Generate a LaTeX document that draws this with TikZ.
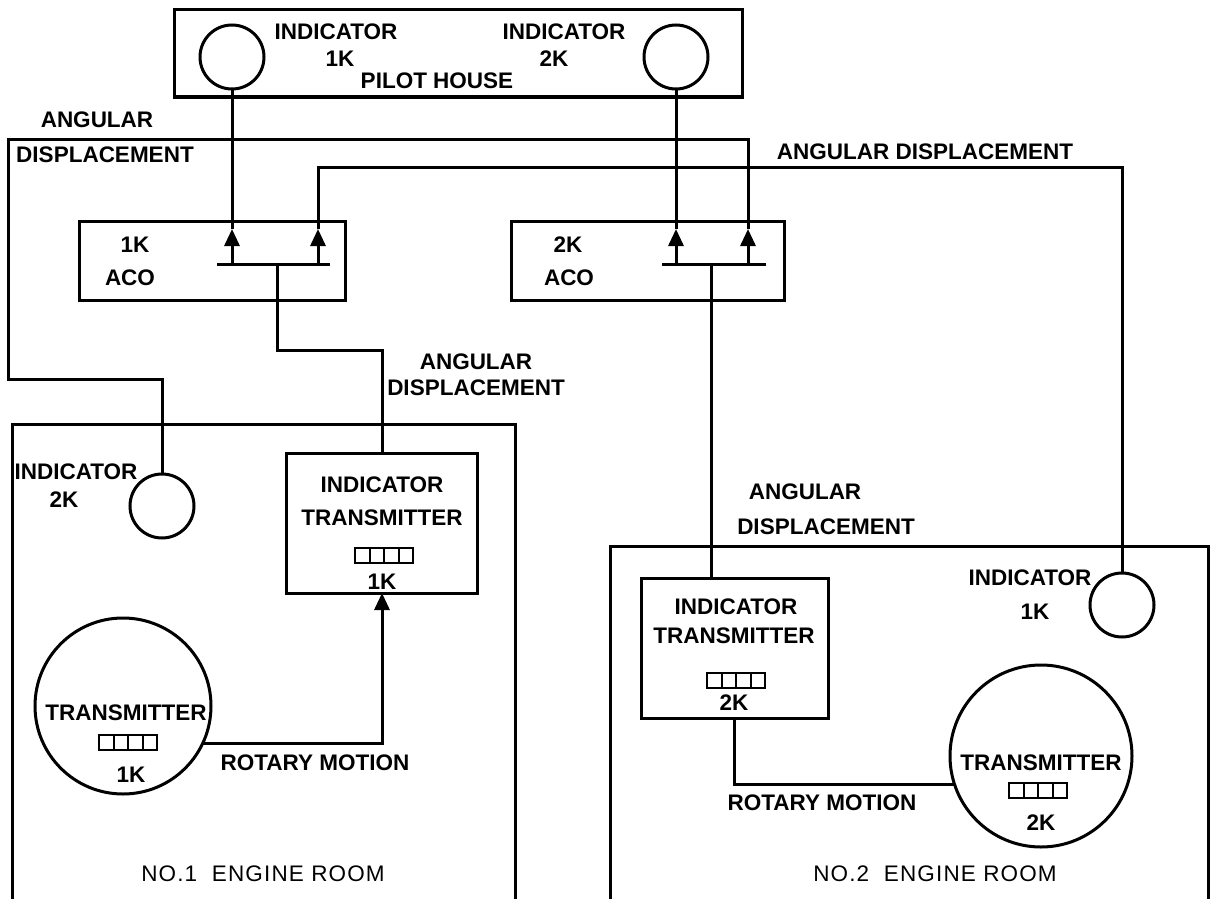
\documentclass[tikz,border=0pt]{standalone}
\usepackage{fontspec}
\setmainfont{Liberation Sans}
\usetikzlibrary{arrows.meta,calc}
\newcommand\lblfont{\fontsize{22.5}{25}\selectfont\bfseries}
\newcommand\roomfont{\fontsize{22.5}{25}\selectfont\addfontfeature{LetterSpace=5}}
\begin{document}
\begin{tikzpicture}[x=1pt,y=-1pt,
  ln/.style={line width=3pt},
  lbl/.style={font=\lblfont, inner sep=0pt},
  rlbl/.style={font=\roomfont, inner sep=0pt},
  box/.style={draw, line width=3pt, inner sep=0pt, outer sep=0pt},
  ring/.style={draw, circle, line width=3pt, inner sep=0pt, outer sep=0pt},
  ctr/.style={draw, line width=2pt, minimum width=58pt, minimum height=15pt, inner sep=0pt,
    path picture={\foreach \f in {0.25,0.5,0.75}
      \draw[line width=2pt] ($(path picture bounding box.south west)!\f!(path picture bounding box.south east)$)
        -- ($(path picture bounding box.north west)!\f!(path picture bounding box.north east)$);}},
  arr/.style={-{Triangle[width=15pt,length=17pt]}, line width=3pt}
]
\useasboundingbox (0,0) rectangle (1216,899);

% ---------- pilot house ----------
\node[box, minimum width=568pt, minimum height=87pt] (ph) at (458,53.5) {};
\node[ring, minimum size=64pt] (ph1) at (232,57) {};
\node[ring, minimum size=64pt] (ph2) at (676,57) {};
\node[lbl] (t1) at (336,32) {INDICATOR};
\node[lbl] (t2) at (340,59) {1K};
\node[lbl] (t3) at (437,81) {PILOT HOUSE};
\node[lbl] (t4) at (564,32) {INDICATOR};
\node[lbl] (t5) at (554,59) {2K};

% ---------- ACO boxes ----------
\node[box, minimum width=266pt, minimum height=79pt] (aco1) at (212,260.5) {};
\node[lbl] (a1) at (135,245) {1K};
\node[lbl] (a2) at (130,278) {ACO};
\node[box, minimum width=273pt, minimum height=79pt] (aco2) at (647.5,260.5) {};
\node[lbl] (a3) at (568,245) {2K};
\node[lbl] (a4) at (569,278) {ACO};

% bars
\coordinate (b1l) at (217,264); \coordinate (b1r) at (330,264);
\coordinate (b1a) at (232,264); \coordinate (b1b) at (318,264); \coordinate (b1m) at (277,264);
\coordinate (b2l) at (662,264); \coordinate (b2r) at (766,264);
\coordinate (b2a) at (676,264); \coordinate (b2b) at (748,264); \coordinate (b2m) at (711,264);
\draw[ln] (b1l) -- (b1r);
\draw[ln] (b2l) -- (b2r);
% arrow tips
\coordinate (p1a) at (232,229); \coordinate (p1b) at (318,229);
\coordinate (p2a) at (676,229); \coordinate (p2b) at (748,229);

% pilot house indicators
\draw[ln] (ph1.south) -- (p1a);
\draw[arr] (b1a) -- (p1a);
\draw[ln] (ph2.south) -- (p2a);
\draw[arr] (b2a) -- (p2a);

% ---------- engine rooms ----------
\draw[ln] (12,899) -- (12,424) -- (515,424) -- (515,899);
\draw[ln] (610,899) -- (610,546) -- (1208,546) -- (1208,899);

\node[ring, minimum size=64pt] (ind2k) at (162,506) {};
\node[lbl] (r1) at (76,472) {INDICATOR};
\node[lbl] (r2) at (64,500) {2K};

\node[ring, minimum size=64pt] (ind1k) at (1122,605) {};
\node[lbl] (r3) at (1030,578) {INDICATOR};
\node[lbl] (r4) at (1035,612) {1K};

% indicator transmitters
\node[box, minimum width=191pt, minimum height=140pt] (tx1) at (382,523) {};
\node[lbl] (x1) at (382,485) {INDICATOR};
\node[lbl] (x2) at (382,518) {TRANSMITTER};
\node[ctr] (c1) at (384,555) {};
\node[lbl] (x3) at (382,582) {1K};

\node[box, minimum width=187pt, minimum height=140pt] (tx2) at (734.5,648) {};
\node[lbl] (x4) at (736,607) {INDICATOR};
\node[lbl] (x5) at (734,636) {TRANSMITTER};
\node[ctr] (c2) at (736,680) {};
\node[lbl] (x6) at (734,703) {2K};

% transmitters
\node[ring, minimum size=176pt] (big1) at (123,706) {};
\node[lbl] (y1) at (126,713) {TRANSMITTER};
\node[ctr] (c3) at (128,742) {};
\node[lbl] (y2) at (131,775) {1K};

\node[ring, minimum size=182pt] (big2) at (1041,756) {};
\node[lbl] (y3) at (1041,763) {TRANSMITTER};
\node[ctr] (c4) at (1038,790) {};
\node[lbl] (y4) at (1041,823) {2K};

% ---------- angular displacement lines ----------
\coordinate (k1) at (318,167);
\draw[arr] (b1b) -- (p1b);
\draw[ln] (p1b) -- (k1) -| (ind1k.north);

\coordinate (k2) at (748,139); \coordinate (k3) at (8,139); \coordinate (k4) at (8,379);
\draw[ln] (p2b) -- (k2) -- (k3) -- (k4) -| (ind2k.north);
\draw[arr] (b2b) -- (p2b);

\coordinate (k5) at (277,350);
\draw[ln] (b1m) -- (k5) -| (tx1.north);
\draw[ln] (b2m) -- (b2m |- tx2.north);

% rotary motion
\draw[arr] (big1.-25) -| (tx1.south);
\draw[ln] (tx2.south) |- (big2.198);

% ---------- labels ----------
\node[lbl] (l1) at (97,120) {ANGULAR};
\node[lbl] (l2) at (105,155) {DISPLACEMENT};
\node[lbl] (l3) at (925,152) {ANGULAR DISPLACEMENT};
\node[lbl] (l4) at (476,362) {ANGULAR};
\node[lbl] (l5) at (476,388) {DISPLACEMENT};
\node[lbl] (l6) at (805,492) {ANGULAR};
\node[lbl] (l7) at (826,527) {DISPLACEMENT};
\node[lbl] (l8) at (315,763) {ROTARY MOTION};
\node[lbl] (l9) at (822,803) {ROTARY MOTION};
\node[rlbl] (n1) at (263,874) {NO.1\ \ ENGINE ROOM};
\node[rlbl] (n2) at (935,874) {NO.2\ \ ENGINE ROOM};
\end{tikzpicture}
\end{document}
